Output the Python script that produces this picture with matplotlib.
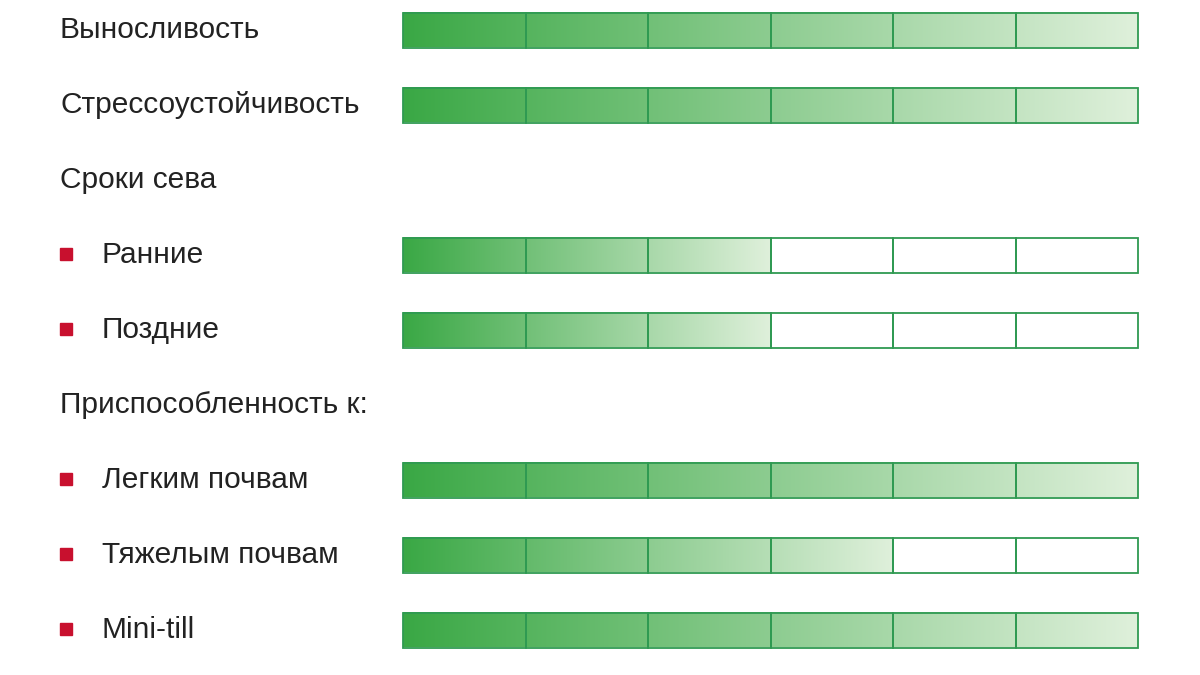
import matplotlib.pyplot as plt
import numpy as np
from matplotlib.colors import LinearSegmentedColormap

plt.rcParams['font.family'] = ['Liberation Sans', 'DejaVu Sans']

# rows: label, bullet, filled cells out of 6 (None = header only)
labels = ['Выносливость', 'Стрессоустойчивость', 'Сроки сева', 'Ранние', 'Поздние',
          'Приспособленность к:', 'Легким почвам', 'Тяжелым почвам', 'Mini-till']
bullets = [False, False, False, True, True, False, True, True, True]
filled = [6, 6, None, 3, 3, None, 6, 4, 6]
n_cells = 6

cmap = LinearSegmentedColormap.from_list('g', ['#3aa845', '#dff0db'])
edge = '#2f9a52'

fig = plt.figure(figsize=(12, 6.75), dpi=100)
ax = fig.add_axes([0, 0, 1, 1])
ax.set_xlim(0, 1200)
ax.set_ylim(675, 0)
ax.axis('off')

x0, x1 = 403, 1138
cw = (x1 - x0) / n_cells
bh = 35
grad = np.linspace(0, 1, 256).reshape(1, -1)

for i, (lab, b, f) in enumerate(zip(labels, bullets, filled)):
    y = 30 + i * 75
    if b:
        ax.add_patch(plt.Rectangle((60, y - 7), 12, 12, color='#c8102e'))
        ax.text(102, y, lab, fontsize=21.5, va='center', color='#222222')
    else:
        ax.text(60, y, lab, fontsize=21.5, va='center', color='#222222')
    if f is None:
        continue
    fx = x0 + f * cw
    ax.imshow(grad, cmap=cmap, extent=[x0, fx, y + bh / 2, y - bh / 2],
              aspect='auto', zorder=1)
    for c in range(n_cells):
        ax.add_patch(plt.Rectangle((x0 + c * cw, y - bh / 2), cw, bh, fill=False,
                                   edgecolor=edge, lw=1.3, zorder=2))

ax.set_xlim(0, 1200)
ax.set_ylim(675, 0)
fig.savefig('out.png', dpi=100)
